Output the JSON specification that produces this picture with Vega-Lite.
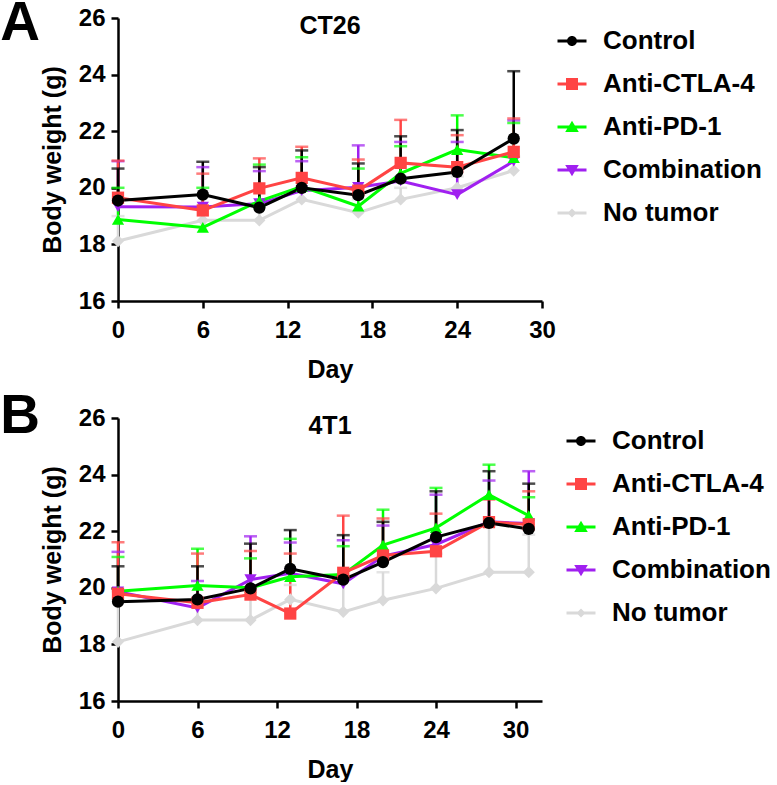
{
  "$schema": "https://vega.github.io/schema/vega-lite/v6.json",
  "padding": {"top": -4, "left": 0, "right": 0, "bottom": 0},
  "background": "white",
  "datasets": {
    "bw": [
      {"p":"A","g":"No tumor","d":0,"m":18.12,"u":19.0},
      {"p":"A","g":"No tumor","d":6,"m":18.85,"u":19.3},
      {"p":"A","g":"No tumor","d":10,"m":18.85,"u":19.3},
      {"p":"A","g":"No tumor","d":13,"m":19.59,"u":20.0},
      {"p":"A","g":"No tumor","d":17,"m":19.12,"u":19.6},
      {"p":"A","g":"No tumor","d":20,"m":19.59,"u":20.0},
      {"p":"A","g":"No tumor","d":24,"m":20.0,"u":20.4},
      {"p":"A","g":"No tumor","d":28,"m":20.61,"u":21.1},
      {"p":"A","g":"Combination","d":0,"m":19.33,"u":20.94},
      {"p":"A","g":"Combination","d":6,"m":19.32,"u":20.73},
      {"p":"A","g":"Combination","d":10,"m":19.44,"u":20.59},
      {"p":"A","g":"Combination","d":13,"m":19.9,"u":20.94},
      {"p":"A","g":"Combination","d":17,"m":20.02,"u":21.5},
      {"p":"A","g":"Combination","d":20,"m":20.24,"u":21.62},
      {"p":"A","g":"Combination","d":24,"m":19.76,"u":21.62},
      {"p":"A","g":"Combination","d":28,"m":20.94,"u":22.38},
      {"p":"A","g":"Anti-PD-1","d":0,"m":18.88,"u":20.0},
      {"p":"A","g":"Anti-PD-1","d":6,"m":18.6,"u":20.0},
      {"p":"A","g":"Anti-PD-1","d":10,"m":19.53,"u":20.82},
      {"p":"A","g":"Anti-PD-1","d":13,"m":20.04,"u":21.08},
      {"p":"A","g":"Anti-PD-1","d":17,"m":19.35,"u":20.68},
      {"p":"A","g":"Anti-PD-1","d":20,"m":20.51,"u":21.47},
      {"p":"A","g":"Anti-PD-1","d":24,"m":21.35,"u":22.56},
      {"p":"A","g":"Anti-PD-1","d":28,"m":21.06,"u":22.29},
      {"p":"A","g":"Anti-CTLA-4","d":0,"m":19.65,"u":20.96},
      {"p":"A","g":"Anti-CTLA-4","d":6,"m":19.2,"u":20.5},
      {"p":"A","g":"Anti-CTLA-4","d":10,"m":19.98,"u":21.04},
      {"p":"A","g":"Anti-CTLA-4","d":13,"m":20.35,"u":21.45},
      {"p":"A","g":"Anti-CTLA-4","d":17,"m":19.9,"u":21.0},
      {"p":"A","g":"Anti-CTLA-4","d":20,"m":20.88,"u":22.4},
      {"p":"A","g":"Anti-CTLA-4","d":24,"m":20.73,"u":21.86},
      {"p":"A","g":"Anti-CTLA-4","d":28,"m":21.27,"u":22.45},
      {"p":"A","g":"Control","d":0,"m":19.55,"u":20.68},
      {"p":"A","g":"Control","d":6,"m":19.76,"u":20.92},
      {"p":"A","g":"Control","d":10,"m":19.3,"u":20.73},
      {"p":"A","g":"Control","d":13,"m":20.0,"u":21.32},
      {"p":"A","g":"Control","d":17,"m":19.74,"u":20.86},
      {"p":"A","g":"Control","d":20,"m":20.32,"u":21.82},
      {"p":"A","g":"Control","d":24,"m":20.56,"u":22.04},
      {"p":"A","g":"Control","d":28,"m":21.74,"u":24.12},
      {"p":"B","g":"No tumor","d":0,"m":18.09,"u":19.88},
      {"p":"B","g":"No tumor","d":6,"m":18.86,"u":19.5},
      {"p":"B","g":"No tumor","d":10,"m":18.86,"u":19.9},
      {"p":"B","g":"No tumor","d":13,"m":19.59,"u":20.1},
      {"p":"B","g":"No tumor","d":17,"m":19.15,"u":20.3},
      {"p":"B","g":"No tumor","d":20,"m":19.56,"u":20.55},
      {"p":"B","g":"No tumor","d":24,"m":19.98,"u":21.2},
      {"p":"B","g":"No tumor","d":28,"m":20.55,"u":22.2},
      {"p":"B","g":"No tumor","d":31,"m":20.55,"u":21.88},
      {"p":"B","g":"Combination","d":0,"m":19.86,"u":21.27},
      {"p":"B","g":"Combination","d":6,"m":19.29,"u":20.24},
      {"p":"B","g":"Combination","d":10,"m":20.29,"u":21.82},
      {"p":"B","g":"Combination","d":13,"m":20.51,"u":21.6},
      {"p":"B","g":"Combination","d":17,"m":20.14,"u":21.68},
      {"p":"B","g":"Combination","d":20,"m":21.12,"u":22.2},
      {"p":"B","g":"Combination","d":24,"m":21.53,"u":23.29},
      {"p":"B","g":"Combination","d":28,"m":22.33,"u":23.79},
      {"p":"B","g":"Combination","d":31,"m":22.27,"u":24.12},
      {"p":"B","g":"Anti-PD-1","d":0,"m":19.88,"u":21.09},
      {"p":"B","g":"Anti-PD-1","d":6,"m":20.08,"u":21.38},
      {"p":"B","g":"Anti-PD-1","d":10,"m":20.0,"u":21.04},
      {"p":"B","g":"Anti-PD-1","d":13,"m":20.39,"u":21.73},
      {"p":"B","g":"Anti-PD-1","d":17,"m":20.47,"u":21.47},
      {"p":"B","g":"Anti-PD-1","d":20,"m":21.51,"u":22.76},
      {"p":"B","g":"Anti-PD-1","d":24,"m":22.12,"u":23.53},
      {"p":"B","g":"Anti-PD-1","d":28,"m":23.29,"u":24.35},
      {"p":"B","g":"Anti-PD-1","d":31,"m":22.55,"u":23.2},
      {"p":"B","g":"Anti-CTLA-4","d":0,"m":19.79,"u":21.61},
      {"p":"B","g":"Anti-CTLA-4","d":6,"m":19.47,"u":21.21},
      {"p":"B","g":"Anti-CTLA-4","d":10,"m":19.76,"u":21.3},
      {"p":"B","g":"Anti-CTLA-4","d":13,"m":19.09,"u":21.21},
      {"p":"B","g":"Anti-CTLA-4","d":17,"m":20.53,"u":22.55},
      {"p":"B","g":"Anti-CTLA-4","d":20,"m":21.14,"u":22.45},
      {"p":"B","g":"Anti-CTLA-4","d":24,"m":21.29,"u":22.62},
      {"p":"B","g":"Anti-CTLA-4","d":28,"m":22.32,"u":23.12},
      {"p":"B","g":"Anti-CTLA-4","d":31,"m":22.24,"u":23.41},
      {"p":"B","g":"Control","d":0,"m":19.51,"u":20.76},
      {"p":"B","g":"Control","d":6,"m":19.59,"u":20.76},
      {"p":"B","g":"Control","d":10,"m":19.98,"u":21.56},
      {"p":"B","g":"Control","d":13,"m":20.67,"u":22.04},
      {"p":"B","g":"Control","d":17,"m":20.29,"u":21.86},
      {"p":"B","g":"Control","d":20,"m":20.91,"u":22.33},
      {"p":"B","g":"Control","d":24,"m":21.79,"u":23.41},
      {"p":"B","g":"Control","d":28,"m":22.29,"u":24.12},
      {"p":"B","g":"Control","d":31,"m":22.08,"u":23.68}
    ]
  },
  "data": {"name": "bw"},
  "spacing": 7,
  "resolve": {"scale": {"color": "independent", "shape": "independent"}, "legend": {"color": "independent", "shape": "independent"}},
  "vconcat": [
    {
      "title": {"text": "A", "anchor": "start", "frame": "bounds", "fontSize": 55, "dx": -40, "offset": -46},
      "resolve": {"scale": {"color": "independent", "shape": "independent"}, "legend": {"color": "independent", "shape": "independent"}},
      "vconcat": [
        {
          "width": 424, "height": 283,
          "title": {"text": "CT26", "offset": -33},
          "transform": [{"filter": "datum.p === 'A'"}],
          "encoding": {
            "x": {"field": "d", "type": "quantitative", "scale": {"domain": [0, 30], "nice": false}, "axis": {"values": [0, 6, 12, 18, 24, 30], "title": "Day"}},
            "color": {"field": "g", "type": "nominal",
              "scale": {"domain": ["Control", "Anti-CTLA-4", "Anti-PD-1", "Combination", "No tumor"], "range": ["#000000", "#ff4444", "#00ff00", "#a020f0", "#d9d9d9"]},
              "legend": {"legendX": 441, "legendY": 10}
            }
          },
          "layer": [
            {"mark": {"type": "rule", "strokeWidth": 2.5},
             "encoding": {"y": {"field": "m", "type": "quantitative", "scale": {"domain": [16, 26], "nice": false}, "axis": {"values": [16, 18, 20, 22, 24, 26], "title": "Body weight (g)"}}, "y2": {"field": "u"}}},
            {"mark": {"type": "tick", "orient": "horizontal", "size": 13, "thickness": 2.5},
             "encoding": {"y": {"field": "u", "type": "quantitative"}}},
            {"mark": {"type": "line", "strokeWidth": 3},
             "encoding": {"y": {"field": "m", "type": "quantitative"}}},
            {"mark": {"type": "point", "filled": true, "opacity": 0},
             "encoding": {"y": {"field": "m", "type": "quantitative"},
               "shape": {"field": "g", "type": "nominal", "legend": {"legendX": 441, "legendY": 10},
                 "scale": {"domain": ["Control", "Anti-CTLA-4", "Anti-PD-1", "Combination", "No tumor"],
                   "range": ["M-1.45,-0.14H1.45V0.14H-1.45Z M0.5,0A0.5,0.5,0,1,1,-0.5,0A0.5,0.5,0,1,1,0.5,0Z", "M-1.45,-0.14H1.45V0.14H-1.45Z M-0.6,-0.6H0.6V0.6H-0.6Z", "M-1.45,-0.14H1.45V0.14H-1.45Z M0,-0.62L0.68,0.5H-0.68Z", "M-1.45,-0.14H1.45V0.14H-1.45Z M0,0.62L-0.68,-0.5H0.68Z", "M-1.45,-0.14H1.45V0.14H-1.45Z M0,-0.45L0.45,0L0,0.45L-0.45,0Z"]}}}},
            {"mark": {"type": "point", "filled": true, "opacity": 1, "size": 150,
               "shape": {"expr": "datum.g==='Control'?'circle':datum.g==='Anti-CTLA-4'?'square':datum.g==='Anti-PD-1'?'triangle-up':datum.g==='Combination'?'triangle-down':'diamond'"}},
             "encoding": {"y": {"field": "m", "type": "quantitative"}}}
          ]
        }
      ]
    },
    {
      "title": {"text": "B", "anchor": "start", "frame": "bounds", "fontSize": 55, "dx": -40, "offset": -39},
      "resolve": {"scale": {"color": "independent", "shape": "independent"}, "legend": {"color": "independent", "shape": "independent"}},
      "vconcat": [
        {
          "width": 424, "height": 283,
          "title": {"text": "4T1", "offset": -33},
          "transform": [{"filter": "datum.p === 'B'"}],
          "encoding": {
            "x": {"field": "d", "type": "quantitative", "scale": {"domain": [0, 32], "nice": false}, "axis": {"values": [0, 6, 12, 18, 24, 30], "title": "Day"}},
            "color": {"field": "g", "type": "nominal",
              "scale": {"domain": ["Control", "Anti-CTLA-4", "Anti-PD-1", "Combination", "No tumor"], "range": ["#000000", "#ff4444", "#00ff00", "#a020f0", "#d9d9d9"]},
              "legend": {"legendX": 450, "legendY": 10}
            }
          },
          "layer": [
            {"mark": {"type": "rule", "strokeWidth": 2.5},
             "encoding": {"y": {"field": "m", "type": "quantitative", "scale": {"domain": [16, 26], "nice": false}, "axis": {"values": [16, 18, 20, 22, 24, 26], "title": "Body weight (g)"}}, "y2": {"field": "u"}}},
            {"mark": {"type": "tick", "orient": "horizontal", "size": 13, "thickness": 2.5},
             "encoding": {"y": {"field": "u", "type": "quantitative"}}},
            {"mark": {"type": "line", "strokeWidth": 3},
             "encoding": {"y": {"field": "m", "type": "quantitative"}}},
            {"mark": {"type": "point", "filled": true, "opacity": 0},
             "encoding": {"y": {"field": "m", "type": "quantitative"},
               "shape": {"field": "g", "type": "nominal", "legend": {"legendX": 450, "legendY": 10},
                 "scale": {"domain": ["Control", "Anti-CTLA-4", "Anti-PD-1", "Combination", "No tumor"],
                   "range": ["M-1.45,-0.14H1.45V0.14H-1.45Z M0.5,0A0.5,0.5,0,1,1,-0.5,0A0.5,0.5,0,1,1,0.5,0Z", "M-1.45,-0.14H1.45V0.14H-1.45Z M-0.6,-0.6H0.6V0.6H-0.6Z", "M-1.45,-0.14H1.45V0.14H-1.45Z M0,-0.62L0.68,0.5H-0.68Z", "M-1.45,-0.14H1.45V0.14H-1.45Z M0,0.62L-0.68,-0.5H0.68Z", "M-1.45,-0.14H1.45V0.14H-1.45Z M0,-0.45L0.45,0L0,0.45L-0.45,0Z"]}}}},
            {"mark": {"type": "point", "filled": true, "opacity": 1, "size": 150,
               "shape": {"expr": "datum.g==='Control'?'circle':datum.g==='Anti-CTLA-4'?'square':datum.g==='Anti-PD-1'?'triangle-up':datum.g==='Combination'?'triangle-down':'diamond'"}},
             "encoding": {"y": {"field": "m", "type": "quantitative"}}}
          ]
        }
      ]
    }
  ],
  "config": {
    "font": "Liberation Sans",
    "view": {"stroke": null},
    "axis": {"domainColor": "black", "domainWidth": 2.5, "tickColor": "black", "tickWidth": 2.5, "tickSize": 7,
      "labelFont": "Liberation Sans", "labelFontWeight": "bold", "labelFontSize": 24, "labelColor": "black", "labelPadding": 6,
      "labelFlush": false, "labelOverlap": false,
      "titleFont": "Liberation Sans", "titleFontWeight": "bold", "titleFontSize": 25, "titleColor": "black", "grid": false},
    "axisX": {"titlePadding": 15, "labelPadding": 10},
    "axisY": {"titlePadding": 13},
    "title": {"font": "Liberation Sans", "fontSize": 25, "fontWeight": "bold", "color": "black"},
    "legend": {"orient": "none", "title": null, "symbolSize": 400, "symbolOpacity": 1, "symbolStrokeWidth": 0, "labelFont": "Liberation Sans", "labelFontSize": 26, "labelFontWeight": "bold", "labelColor": "black", "labelLimit": 0, "rowPadding": 17, "labelOffset": 18, "padding": 0}
  }
}
